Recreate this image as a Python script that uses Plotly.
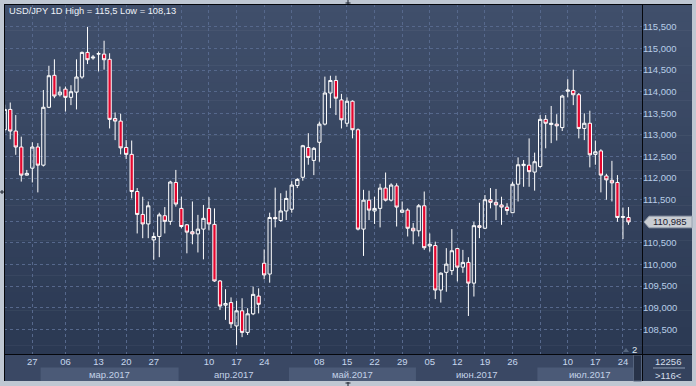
import plotly.graph_objects as go

# ---------------- data ----------------
open_ = [113.12, 113.59, 113.09, 112.72, 112.07, 112.23, 112.72, 112.30, 113.64, 114.38,
         113.93, 114.06, 113.87, 113.99, 114.34, 114.91, 114.78, 114.87, 114.87, 114.75,
         113.38, 113.32, 112.71, 112.55, 111.69, 111.16, 110.94, 110.57, 110.65, 111.13,
         111.00, 111.90, 111.30, 110.92, 110.76, 110.71, 110.82, 111.30, 110.93, 109.62,
         109.06, 109.12, 108.58, 108.93, 108.43, 108.86, 109.27, 110.03, 109.78, 111.09,
         111.02, 111.24, 111.28, 111.83, 112.02, 112.71, 112.41, 112.83, 113.25, 113.97,
         114.26, 113.81, 113.27, 113.78, 113.12, 110.82, 111.49, 111.24, 111.30, 111.77,
         111.49, 111.82, 111.21, 111.26, 110.84, 110.78, 111.36, 110.43, 110.44, 109.41,
         109.82, 109.86, 110.37, 109.94, 110.05, 109.57, 110.90, 110.84, 111.50, 111.44,
         111.38, 111.33, 111.20, 111.86, 112.29, 112.30, 112.14, 112.27, 113.36, 113.24,
         113.25, 113.17, 114.01, 114.03, 113.93, 113.15, 113.27, 112.55, 112.63, 112.05,
         111.95, 111.90, 111.09, 111.09]
high = [113.70, 113.75, 113.46, 112.96, 112.19, 112.83, 112.81, 114.04, 114.60, 114.75,
        114.12, 114.12, 114.15, 114.75, 114.93, 115.50, 114.85, 114.93, 115.18, 114.89,
        113.52, 113.49, 112.88, 112.87, 111.77, 111.57, 111.46, 110.74, 111.20, 111.33,
        111.94, 112.19, 111.57, 110.94, 111.46, 111.15, 111.38, 111.56, 111.30, 109.64,
        109.43, 109.24, 109.16, 109.22, 108.99, 109.49, 109.45, 110.35, 111.20, 111.78,
        111.65, 111.71, 111.93, 112.00, 112.77, 113.04, 112.72, 113.31, 114.35, 114.37,
        114.37, 113.95, 113.87, 113.80, 113.15, 111.73, 111.71, 111.57, 111.87, 112.13,
        111.88, 111.88, 111.46, 111.30, 110.96, 111.40, 111.69, 110.72, 110.53, 109.82,
        110.38, 110.82, 110.39, 110.34, 110.17, 110.99, 111.43, 111.61, 111.77, 111.75,
        111.57, 111.42, 111.92, 112.48, 112.42, 112.92, 112.59, 113.46, 113.46, 113.67,
        113.48, 113.93, 114.29, 114.51, 113.97, 113.50, 113.56, 112.87, 112.67, 112.10,
        112.40, 112.07, 111.32, 111.33]
low = [113.05, 112.90, 112.54, 111.92, 112.06, 111.90, 111.67, 112.27, 113.62, 113.85,
       113.89, 113.54, 113.69, 113.59, 114.30, 114.64, 114.74, 114.47, 114.51, 113.15,
       112.88, 112.55, 112.44, 111.53, 110.72, 110.61, 110.61, 110.11, 110.17, 110.72,
       110.92, 111.34, 110.84, 110.26, 110.47, 110.28, 110.12, 110.79, 109.60, 108.95,
       108.72, 108.53, 108.13, 108.32, 108.37, 108.83, 108.87, 109.66, 109.58, 110.86,
       110.99, 111.03, 111.20, 111.77, 111.94, 112.31, 112.07, 112.38, 113.22, 113.62,
       113.46, 113.15, 113.19, 112.92, 110.79, 110.20, 111.03, 110.94, 110.86, 111.46,
       111.46, 110.88, 111.19, 110.65, 110.47, 110.65, 110.34, 110.30, 109.20, 109.12,
       109.37, 109.76, 109.61, 109.81, 108.81, 109.26, 110.61, 110.82, 111.30, 111.03,
       110.92, 111.15, 111.19, 111.46, 111.80, 111.80, 111.71, 112.24, 112.69, 112.81,
       112.87, 113.09, 113.87, 113.69, 112.92, 112.88, 112.25, 112.31, 111.67, 111.50,
       111.46, 110.99, 110.59, 110.92]
close = [113.59, 113.09, 112.72, 112.07, 112.11, 112.72, 112.30, 113.64, 114.37, 113.90,
         113.99, 113.87, 114.00, 114.34, 114.91, 114.74, 114.80, 114.88, 114.74, 113.36,
         113.32, 112.70, 112.55, 111.69, 111.16, 110.94, 111.36, 110.65, 111.15, 111.00,
         111.91, 111.40, 110.88, 110.75, 110.71, 110.82, 111.07, 110.94, 109.62, 109.04,
         109.10, 108.63, 108.93, 108.43, 108.86, 109.31, 109.08, 109.76, 111.09, 111.06,
         111.24, 111.53, 111.84, 111.97, 112.75, 112.48, 112.69, 113.25, 113.97, 114.26,
         113.85, 113.35, 113.78, 113.12, 110.82, 111.49, 111.26, 111.30, 111.77, 111.49,
         111.84, 111.33, 111.26, 110.84, 110.78, 111.36, 110.39, 110.47, 109.41, 109.80,
         110.01, 110.32, 109.94, 110.05, 109.57, 110.90, 110.86, 111.50, 111.44, 111.38,
         111.33, 111.25, 111.86, 112.31, 112.32, 112.15, 112.38, 113.36, 113.27, 113.27,
         113.21, 113.90, 114.04, 113.93, 113.15, 113.27, 112.54, 112.61, 112.07, 111.96,
         111.89, 111.09, 111.11, 110.985]
bar_index = list(range(1, len(open_) + 1))

week_ticks = [6, 12, 18, 23, 28, 33, 38, 43, 48, 53, 58, 63, 68, 73, 78, 83, 88, 93, 98, 103, 108, 113]
week_labels = ["27", "06", "13", "20", "27", "", "10", "17", "24", "", "08", "15", "22", "29",
               "05", "12", "19", "26", "", "10", "17", "24"]
month_labels = ["мар.2017", "апр.2017", "май.2017", "июн.2017", "июл.2017"]
month_starts = [7.5, 32.5, 52.5, 75.5, 97.5]
month_highlight = [True, False, True, False, True]
price_ticks = [108.5, 109.0, 109.5, 110.0, 110.5, 111.0, 111.5, 112.0, 112.5, 113.0,
               113.5, 114.0, 114.5, 115.0, 115.5]
price_labels = ["108,500", "109,000", "109,500", "110,000", "110,500", "", "111,500",
                "112,000", "112,500", "113,000", "113,500", "114,000", "114,500",
                "115,000", "115,500"]
title_text = "USD/JPY 1D High = 115,5 Low = 108,13"
corner_top, corner_bottom = "12256", ">116<"

# ---------------- geometry helpers ----------------
W, H = 696, 386
L, R, T, B = 4, 642, 4, 354
PW, PH = R - L, B - T
X_RANGE = [0.87, 116.45]
Y_RANGE = [107.93, 116.03]


def px(x):
    return (x - L) / PW


def py(y):
    return (B - y) / PH


FONT = "Liberation Sans, Arial, sans-serif"

fig = go.Figure()
fig.add_trace(go.Candlestick(
    x=bar_index, open=open_, high=high, low=low, close=close,
    increasing=dict(line=dict(color="#ffffff", width=1), fillcolor="rgba(0,0,0,0)"),
    decreasing=dict(line=dict(color="#ffffff", width=1), fillcolor="#e4062e"),
    whiskerwidth=0, showlegend=False, hoverinfo="skip",
))

shapes = []
# vertical gradient background (plot + right axis)
top_c = (64, 79, 107)
bot_c = (43, 57, 83)
N = 40
for i in range(N):
    t = i / (N - 1)
    c = tuple(round(top_c[j] + (bot_c[j] - top_c[j]) * t) for j in range(3))
    y0 = T + PH * i / N
    y1 = T + PH * (i + 1) / N + 0.6
    shapes.append(dict(type="rect", xref="paper", yref="paper", layer="below",
                       x0=px(L), x1=px(692), y0=py(y1), y1=py(y0),
                       line=dict(width=0), fillcolor="rgb(%d,%d,%d)" % c))
# bottom axis strip and corner box
shapes.append(dict(type="rect", xref="paper", yref="paper", layer="below",
                   x0=px(L), x1=px(R), y0=py(381), y1=py(B),
                   line=dict(width=0), fillcolor="#3a4864"))
shapes.append(dict(type="rect", xref="paper", yref="paper", layer="below",
                   x0=px(R), x1=px(692), y0=py(381), y1=py(B),
                   line=dict(width=0), fillcolor="#34425d"))
# month boxes
month_ends = month_starts[1:] + [X_RANGE[1]]
for s, e, hl in zip(month_starts, month_ends, month_highlight):
    if hl:
        shapes.append(dict(type="rect", xref="x", yref="paper", layer="above",
                           x0=s, x1=e, y0=py(381), y1=py(367.5),
                           line=dict(width=0), fillcolor="#4b5a77"))
# scroll strip
shapes.append(dict(type="rect", xref="paper", yref="paper", layer="above",
                   x0=px(633.5), x1=px(641.5), y0=py(381), y1=py(355),
                   line=dict(color="#55647e", width=1), fillcolor="#283349"))
# frame lines
for (x0, y0, x1, y1) in [(L, 4.5, 692, 4.5), (4.5, 4, 4.5, 381), (L, B + 0.5, 692, B + 0.5),
                         (R + 0.5, 4, R + 0.5, 381)]:
    shapes.append(dict(type="line", xref="paper", yref="paper", layer="above",
                       x0=px(x0), x1=px(x1), y0=py(y0), y1=py(y1),
                       line=dict(color="#05070c", width=1)))
# small splitter handles on the frame
for (x0, y0, x1, y1) in [(348, 0, 348, 4), (345.5, 3, 350.5, 3), (0, 192, 4, 192), (2, 190, 2, 194),
                         (348, 382, 348, 386), (345.5, 383, 350.5, 383)]:
    shapes.append(dict(type="line", xref="paper", yref="paper", layer="above",
                       x0=px(x0), x1=px(x1), y0=py(y0), y1=py(y1),
                       line=dict(color="#1a202c", width=1)))
# corner separator
shapes.append(dict(type="line", xref="paper", yref="paper", layer="above",
                   x0=px(653), x1=px(685), y0=py(368), y1=py(368),
                   line=dict(color="#8b99b0", width=1)))
# small triangle near the "2" marker
shapes.append(dict(type="path", xref="paper", yref="paper", layer="above",
                   path="M %f %f L %f %f L %f %f Z" % (px(623), py(352), px(629), py(352), px(626), py(348)),
                   line=dict(width=0), fillcolor="#56667f"))
# last price label (arrow box)
last = close[-1]
dy = 5.8 / (PH / (Y_RANGE[1] - Y_RANGE[0]))
shapes.append(dict(type="path", xref="paper", yref="y", layer="above",
                   path="M %f %f L %f %f L %f %f L %f %f L %f %f Z" % (
                       px(644), last, px(649), last + dy, px(692), last + dy,
                       px(692), last - dy, px(649), last - dy),
                   line=dict(color="#9aa3b0", width=1), fillcolor="#c9cdd3"))

annotations = [
    dict(text=title_text, xref="paper", yref="paper", x=px(7), y=py(10.5),
         xanchor="left", yanchor="middle", showarrow=False,
         font=dict(family=FONT, size=9.3, color="#eef2f8")),
    dict(text=f"{last:.3f}".replace(".", ","), xref="paper", yref="y", x=px(670), y=last,
         xanchor="center", yanchor="middle", showarrow=False,
         font=dict(family=FONT, size=9.5, color="#1a2030")),
    dict(text="2", xref="paper", yref="paper", x=px(634), y=py(349.5),
         xanchor="center", yanchor="middle", showarrow=False,
         font=dict(family=FONT, size=9.5, color="#dfe7f2")),
    dict(text=corner_top, xref="paper", yref="paper", x=px(668), y=py(361),
         xanchor="center", yanchor="middle", showarrow=False,
         font=dict(family=FONT, size=9.5, color="#d5deea")),
    dict(text=corner_bottom, xref="paper", yref="paper", x=px(668), y=py(375),
         xanchor="center", yanchor="middle", showarrow=False,
         font=dict(family=FONT, size=9.5, color="#d5deea")),
]
for s, e, lab in zip(month_starts, month_ends, month_labels):
    annotations.append(dict(text=lab, xref="x", yref="paper", x=(s + e) / 2, y=py(374.5),
                            xanchor="center", yanchor="middle", showarrow=False,
                            font=dict(family=FONT, size=9.5, color="#c3d2e8")))

grid = dict(showgrid=True, gridcolor="#56688c", gridwidth=1, griddash="3px,3px",
            zeroline=False, showline=False, ticks="")

fig.update_layout(
    width=W, height=H,
    margin=dict(l=L, r=W - R, t=T, b=H - B, pad=0),
    paper_bgcolor="#bfc7d2", plot_bgcolor="rgba(0,0,0,0)",
    showlegend=False, boxgap=0.15,
    xaxis=dict(range=X_RANGE, tickmode="array", tickvals=week_ticks, ticktext=week_labels,
               tickfont=dict(family=FONT, size=9.5, color="#c6d7ee"),
               rangeslider=dict(visible=False), fixedrange=True, **grid),
    yaxis=dict(range=Y_RANGE, side="right", tickmode="array", tickvals=price_ticks,
               ticktext=price_labels, tickfont=dict(family=FONT, size=9.5, color="#b8cde8"),
               fixedrange=True, **grid),
    shapes=shapes, annotations=annotations,
)

fig.write_html("out.html", config={"displayModeBar": False},
               post_script="document.body.style.margin='0';document.body.style.padding='0';")
